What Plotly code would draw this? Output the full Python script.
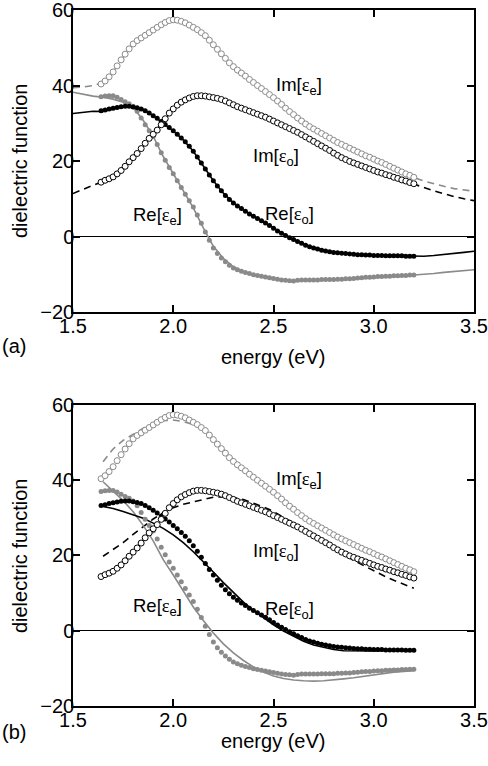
import plotly.graph_objects as go

# ---------------- experimental data (shared by both panels) ----------------
E_START, E_STEP = 1.64, 0.02

im_e_exp = [40.4, 41.2, 42.3, 43.6, 45.2, 46.8, 48.3, 49.7, 51.0, 51.9,
            52.6, 53.3, 54.0, 54.7, 55.4, 56.1, 56.7, 57.2, 57.4, 57.3,
            57.0, 56.6, 56.0, 55.4, 54.8, 54.0, 53.2, 52.0, 50.8, 49.6,
            48.4, 47.2, 46.0, 45.0, 44.1, 43.3, 42.5, 41.6, 40.8, 40.0,
            39.2, 38.4, 37.6, 36.8, 35.9, 35.0, 34.0, 33.1, 32.3, 31.4,
            30.6, 29.8, 29.1, 28.5, 27.9, 27.3, 26.7, 26.1, 25.5, 24.9,
            24.4, 23.9, 23.4, 22.9, 22.4, 21.9, 21.4, 21.0, 20.5, 20.0,
            19.6, 19.1, 18.6, 18.1, 17.6, 17.1, 16.6, 16.2, 15.7]

im_o_exp = [14.4, 14.9, 15.3, 15.8, 16.6, 17.5, 18.6, 19.8, 20.9, 22.0,
            23.3, 24.7, 26.0, 27.1, 28.2, 29.6, 31.2, 32.7, 33.8, 34.8,
            35.6, 36.2, 36.7, 37.1, 37.3, 37.3, 37.2, 37.0, 36.8, 36.6,
            36.3, 35.9, 35.4, 34.9, 34.4, 34.0, 33.6, 33.2, 32.8, 32.4,
            32.0, 31.6, 31.1, 30.6, 30.1, 29.6, 29.1, 28.6, 28.1, 27.6,
            27.0, 26.4, 25.8, 25.2, 24.6, 24.0, 23.4, 22.8, 22.1, 21.5,
            20.9, 20.4, 19.9, 19.5, 19.1, 18.7, 18.3, 17.9, 17.5, 17.1,
            16.8, 16.4, 16.1, 15.7, 15.4, 15.0, 14.7, 14.3, 14.0]

re_o_exp = [33.3, 33.5, 33.8, 34.0, 34.2, 34.4, 34.5, 34.5, 34.3, 34.1,
            33.8, 33.3, 32.7, 32.0, 31.3, 30.5, 29.7, 28.9, 28.0, 27.1,
            26.1, 25.1, 23.9, 22.6, 21.1, 19.5, 17.9, 16.3, 14.8, 13.4,
            12.1, 10.9, 9.8, 8.9, 8.1, 7.4, 6.7, 6.0, 5.4, 4.8,
            4.2, 3.6, 2.9, 2.2, 1.5, 0.9, 0.3, -0.3, -0.8, -1.3,
            -1.8, -2.3, -2.7, -3.0, -3.3, -3.6, -3.8, -4.0, -4.2, -4.3,
            -4.4, -4.5, -4.6, -4.7, -4.8, -4.8, -4.9, -4.9, -5.0, -5.0,
            -5.0, -5.1, -5.1, -5.1, -5.1, -5.1, -5.2, -5.2, -5.2]

re_e_exp = [37.0, 37.2, 37.3, 37.3, 36.9, 36.3, 35.7, 35.2, 34.5, 33.2,
            31.4, 29.6, 28.0, 26.5, 24.4, 22.2, 20.2, 18.3, 16.6, 14.8,
            13.0, 11.2, 9.5, 7.8, 5.7, 3.5, 1.2, -1.0, -3.0, -4.5,
            -5.7, -6.7, -7.6, -8.3, -8.8, -9.2, -9.5, -9.8, -10.1, -10.3,
            -10.5, -10.7, -10.9, -11.1, -11.3, -11.5, -11.6, -11.7, -11.8, -11.6,
            -11.5, -11.5, -11.5, -11.5, -11.5, -11.4, -11.4, -11.4, -11.4, -11.3,
            -11.3, -11.2, -11.2, -11.1, -11.0, -10.9, -10.8, -10.8, -10.7, -10.6,
            -10.6, -10.5, -10.5, -10.4, -10.4, -10.3, -10.3, -10.2, -10.2]

energy_exp = [round(E_START + E_STEP * i, 2) for i in range(len(im_e_exp))]

# ---------------- model curves, panel (a): 1.50 .. 3.50 ----------------
energy_a = [round(1.50 + 0.05 * i, 2) for i in range(41)]
im_e_a = [39.4, 39.6, 40.0, 40.8, 43.6, 47.5, 51.0, 53.0, 54.7, 56.4,
          57.4, 56.8, 55.4, 53.6, 50.8, 47.8, 45.0, 42.9, 40.8, 38.8,
          36.8, 34.5, 32.3, 30.2, 28.5, 27.0, 25.5, 24.1, 22.9, 21.6,
          20.5, 19.3, 18.1, 16.8, 15.6, 14.7, 13.9, 13.3, 12.7, 12.3, 12.0]
im_o_a = [11.4, 12.6, 13.6, 14.6, 15.8, 18.0, 20.9, 24.0, 27.1, 30.4,
          33.8, 35.9, 37.1, 37.3, 36.8, 36.1, 34.9, 33.8, 32.8, 31.8,
          30.6, 29.4, 28.1, 26.7, 25.2, 23.7, 22.1, 20.7, 19.5, 18.5,
          17.5, 16.6, 15.7, 14.8, 14.0, 13.0, 12.1, 11.3, 10.6, 10.0, 9.5]
re_o_a = [32.6, 32.9, 33.2, 33.1, 33.8, 34.4, 34.5, 33.7, 32.0, 30.0,
          28.0, 25.6, 22.6, 18.7, 14.8, 11.5, 8.9, 7.0, 5.4, 3.9,
          2.2, 0.6, -0.8, -2.0, -3.0, -3.7, -4.2, -4.5, -4.7, -4.9,
          -5.0, -5.0, -5.1, -5.1, -5.2, -5.2, -5.0, -4.8, -4.5, -4.2, -3.9]
re_e_a = [38.2, 37.6, 37.2, 36.9, 36.4, 35.6, 34.2, 30.8, 26.5, 21.2,
          16.6, 12.1, 7.6, 2.3, -2.6, -5.8, -8.0, -9.3, -10.1, -10.7,
          -11.1, -11.5, -11.8, -11.7, -11.6, -11.5, -11.4, -11.3, -11.1, -10.9,
          -10.7, -10.6, -10.4, -10.3, -10.2, -10.1, -9.8, -9.5, -9.3, -9.0, -8.8]

# ---------------- model curves, panel (b): 1.65 .. 3.20 ----------------
energy_b = [round(1.65 + 0.05 * i, 2) for i in range(32)]
im_e_b = [44.9, 48.3, 50.6, 52.2, 53.8, 55.0, 55.8, 56.0, 55.6, 54.8,
          53.4, 51.0, 48.2, 45.4, 42.8, 40.5, 38.4, 36.4, 34.2, 32.0,
          30.0, 28.3, 26.8, 25.3, 23.9, 22.6, 21.4, 20.1, 18.9, 17.7, 16.5, 15.4]
im_o_b = [19.8, 21.5, 23.4, 25.6, 27.7, 29.7, 31.4, 32.7, 33.6, 34.3,
          35.0, 35.5, 35.6, 35.4, 34.9, 34.0, 32.9, 31.7, 30.2, 28.6,
          27.0, 25.3, 23.6, 21.9, 20.2, 18.7, 17.3, 15.9, 14.6, 13.4, 12.3, 11.3]
re_o_b = [33.0, 32.5, 31.7, 30.8, 29.9, 28.6, 27.2, 25.5, 23.4, 21.0,
          18.4, 15.6, 12.8, 10.1, 7.6, 5.4, 3.4, 1.6, -0.1, -1.5,
          -2.8, -3.8, -4.5, -5.0, -5.3, -5.4, -5.4, -5.4, -5.3, -5.2, -5.1, -5.0]
re_e_b = [39.6, 37.2, 34.6, 31.6, 28.0, 23.9, 18.9, 14.8, 10.4, 6.3,
          2.7, -0.6, -3.5, -5.9, -7.9, -9.6, -11.0, -12.0, -12.7, -13.1,
          -13.3, -13.4, -13.3, -13.1, -12.8, -12.5, -12.1, -11.7, -11.3, -11.0, -10.8, -10.6]

# ---------------- labels ----------------
x_ticks = [1.5, 2.0, 2.5, 3.0, 3.5]
x_ticktext = ["1.5", "2.0", "2.5", "3.0", "3.5"]
y_ticks = [-20, 0, 20, 40, 60]
y_ticktext = ["\u221220", "0", "20", "40", "60"]

GRAY = "#8a8a8a"
BLACK = "#000000"
EPS = "<span style='font-family:Liberation Serif'>\u03b5</span>"

fig = go.Figure()


def add_panel(xa, ya, models):
    for mx, my, col, dash in models:
        fig.add_trace(go.Scatter(x=mx, y=my, mode="lines", xaxis=xa, yaxis=ya,
                                 line=dict(color=col, width=1.6, dash=dash),
                                 showlegend=False, hoverinfo="skip"))
    for vals, col in [(re_e_exp, GRAY), (re_o_exp, BLACK)]:
        fig.add_trace(go.Scatter(x=energy_exp, y=vals, mode="markers", xaxis=xa, yaxis=ya,
                                 marker=dict(symbol="circle", size=5, color=col,
                                             line=dict(width=0)),
                                 showlegend=False, hoverinfo="skip"))
    for vals, col in [(im_o_exp, BLACK), (im_e_exp, GRAY)]:
        fig.add_trace(go.Scatter(x=energy_exp, y=vals, mode="markers", xaxis=xa, yaxis=ya,
                                 marker=dict(symbol="circle", size=6, color="white",
                                             line=dict(width=1, color=col)),
                                 showlegend=False, hoverinfo="skip"))


DASH = "7px,5px"
add_panel("x", "y", [
    (energy_a, im_e_a, GRAY, DASH),
    (energy_a, im_o_a, BLACK, DASH),
    (energy_a, re_e_a, GRAY, "solid"),
    (energy_a, re_o_a, BLACK, "solid"),
])
add_panel("x2", "y2", [
    (energy_b, im_e_b, GRAY, DASH),
    (energy_b, im_o_b, BLACK, DASH),
    (energy_b, re_e_b, GRAY, "solid"),
    (energy_b, re_o_b, BLACK, "solid"),
])

FONT = "Liberation Sans, Arial, sans-serif"
axis_common = dict(showline=True, linecolor="black", linewidth=1.5, mirror="allticks",
                   ticks="inside", ticklen=7, tickwidth=1.5, tickcolor="black",
                   showgrid=False, automargin=False, ticklabeloverflow="allow",
                   tickfont=dict(family=FONT, size=20, color="black"))

xax = dict(range=[1.5, 3.5], tickvals=x_ticks, ticktext=x_ticktext, zeroline=False,
           ticklabelstandoff=-5, **axis_common)
yax = dict(range=[-20, 60], tickvals=y_ticks, ticktext=y_ticktext, zeroline=True,
           zerolinecolor="black", zerolinewidth=1.2, ticklabelstandoff=-7, **axis_common)

top_dom = [0.566, 1.0]
bot_dom = [0.0, 0.4325]

fig.update_layout(
    width=488, height=766,
    margin=dict(l=73, r=14, t=10, b=60, autoexpand=False),
    paper_bgcolor="white", plot_bgcolor="white",
    font=dict(family=FONT, size=19, color="black"),
    xaxis=dict(domain=[0, 1], anchor="y", **xax),
    yaxis=dict(domain=top_dom, anchor="x", **yax),
    xaxis2=dict(domain=[0, 1], anchor="y2", **xax),
    yaxis2=dict(domain=bot_dom, anchor="x2", **yax),
)

ann = []
curve_labels_a = [
    ("Im[" + EPS + "<sub>e</sub>]", 2.50, 40.0),
    ("Im[" + EPS + "<sub>o</sub>]", 2.39, 21.0),
    ("Re[" + EPS + "<sub>o</sub>]", 2.45, 5.6),
    ("Re[" + EPS + "<sub>e</sub>]", 1.79, 5.4),
]
curve_labels_b = [
    ("Im[" + EPS + "<sub>e</sub>]", 2.50, 40.0),
    ("Im[" + EPS + "<sub>o</sub>]", 2.39, 21.0),
    ("Re[" + EPS + "<sub>o</sub>]", 2.45, 5.6),
    ("Re[" + EPS + "<sub>e</sub>]", 1.79, 6.2),
]
for xr, yr, labels in [("x", "y", curve_labels_a), ("x2", "y2", curve_labels_b)]:
    for txt, xv, yv in labels:
        ann.append(dict(text=txt, x=xv, y=yv, xref=xr, yref=yr, xanchor="left",
                        yanchor="middle", showarrow=False,
                        font=dict(family=FONT, size=18.5, color="black")))

for ymid, ytitle, ytag, tag in [(0.783, 0.5014, 0.5172, "(a)"), (0.2155, -0.0505, -0.038, "(b)")]:
    ann.append(dict(text="dielectric function", x=-0.132, y=ymid, xref="paper", yref="paper",
                    textangle=-90, showarrow=False, xanchor="center", yanchor="middle",
                    font=dict(family=FONT, size=20, color="black")))
    ann.append(dict(text="energy (eV)", x=0.5, y=ytitle, xref="paper", yref="paper",
                    showarrow=False, xanchor="center", yanchor="middle",
                    font=dict(family=FONT, size=20, color="black")))
    ann.append(dict(text=tag, x=-0.182, y=ytag, xref="paper", yref="paper",
                    showarrow=False, xanchor="left", yanchor="middle",
                    font=dict(family=FONT, size=20, color="black")))

fig.update_layout(annotations=ann)
fig.write_html("out.html", config={"displayModeBar": False},
               post_script="document.body.style.margin='0';document.body.style.overflow='hidden';")
